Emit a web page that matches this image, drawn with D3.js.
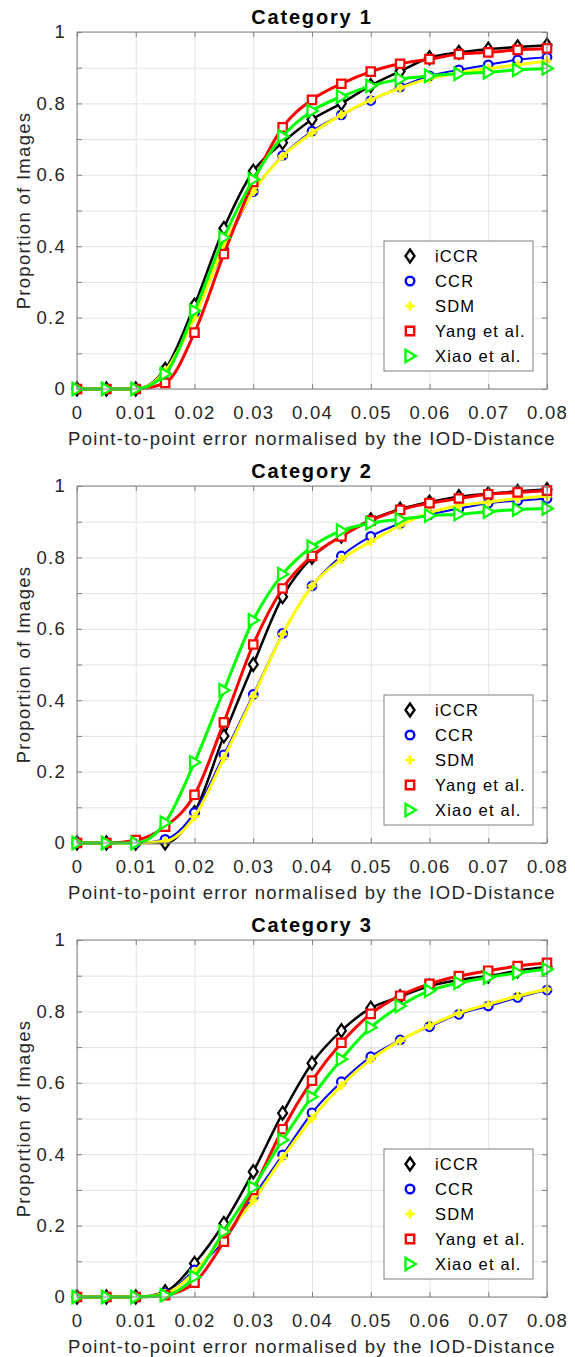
<!DOCTYPE html>
<html>
<head>
<meta charset="utf-8">
<script src="https://cdn.jsdelivr.net/npm/d3@7"></script>
<style>
  body { margin: 0; background: #fff; }
  svg { display: block; }
  text { font-family: "Liberation Sans", Arial, sans-serif; }
</style>
</head>
<body>
<svg id="chart" width="575" height="1357"></svg>
<script>
// ---------- DATA ----------
const xValues = [0, 0.005, 0.01, 0.015, 0.02, 0.025, 0.03, 0.035, 0.04, 0.045, 0.05, 0.055, 0.06, 0.065, 0.07, 0.075, 0.08];
const xTickValues = [0, 0.01, 0.02, 0.03, 0.04, 0.05, 0.06, 0.07, 0.08];
const yTickValues = [0, 0.1, 0.2, 0.3, 0.4, 0.5, 0.6, 0.7, 0.8, 0.9, 1];
const yLabelValues = [0, 0.2, 0.4, 0.6, 0.8, 1];
const seriesNames = ["iCCR", "CCR", "SDM", "Yang et al.", "Xiao et al."];
const panelTitles = ["Category 1", "Category 2", "Category 3"];

// Category 1
const cat1_iCCR = [0, 0, 0, 0.055, 0.235, 0.45, 0.61, 0.69, 0.755, 0.80, 0.85, 0.89, 0.928, 0.943, 0.952, 0.958, 0.963];
const cat1_CCR  = [0, 0, 0, 0.045, 0.213, 0.39, 0.553, 0.654, 0.722, 0.768, 0.808, 0.846, 0.877, 0.894, 0.908, 0.922, 0.929];
const cat1_SDM  = [0, 0, 0, 0.05, 0.20, 0.40, 0.553, 0.652, 0.717, 0.768, 0.81, 0.843, 0.87, 0.886, 0.898, 0.908, 0.919];
const cat1_Yang = [0, 0, 0, 0.017, 0.158, 0.378, 0.58, 0.733, 0.81, 0.855, 0.889, 0.911, 0.924, 0.938, 0.943, 0.95, 0.954];
const cat1_Xiao = [0, 0, 0, 0.042, 0.219, 0.424, 0.587, 0.708, 0.779, 0.819, 0.849, 0.868, 0.877, 0.883, 0.887, 0.894, 0.898];

// Category 2
const cat2_iCCR = [0, 0, 0, 0, 0.085, 0.30, 0.50, 0.69, 0.80, 0.86, 0.905, 0.935, 0.955, 0.97, 0.978, 0.985, 0.99];
const cat2_CCR  = [0, 0, 0, 0.01, 0.085, 0.247, 0.416, 0.587, 0.72, 0.804, 0.859, 0.895, 0.92, 0.937, 0.952, 0.959, 0.965];
const cat2_SDM  = [0, 0, 0, 0.005, 0.074, 0.238, 0.41, 0.585, 0.72, 0.795, 0.844, 0.89, 0.925, 0.945, 0.955, 0.965, 0.971];
const cat2_Yang = [0, 0, 0.008, 0.046, 0.135, 0.338, 0.556, 0.713, 0.804, 0.859, 0.903, 0.933, 0.952, 0.965, 0.977, 0.982, 0.987];
const cat2_Xiao = [0, 0, 0, 0.057, 0.226, 0.428, 0.624, 0.753, 0.83, 0.875, 0.896, 0.907, 0.917, 0.921, 0.928, 0.934, 0.937];

// Category 3
const cat3_iCCR = [0, 0, 0, 0.015, 0.094, 0.206, 0.351, 0.515, 0.655, 0.746, 0.809, 0.841, 0.871, 0.888, 0.899, 0.914, 0.925];
const cat3_CCR  = [0, 0, 0, 0.01, 0.076, 0.158, 0.281, 0.398, 0.516, 0.603, 0.673, 0.72, 0.757, 0.792, 0.815, 0.839, 0.86];
const cat3_SDM  = [0, 0, 0, 0.01, 0.07, 0.17, 0.27, 0.39, 0.50, 0.592, 0.665, 0.718, 0.76, 0.795, 0.82, 0.843, 0.862];
const cat3_Yang = [0, 0, 0, 0.005, 0.04, 0.155, 0.30, 0.47, 0.606, 0.712, 0.793, 0.844, 0.877, 0.899, 0.914, 0.927, 0.936];
const cat3_Xiao = [0, 0, 0, 0.005, 0.057, 0.183, 0.307, 0.44, 0.561, 0.666, 0.755, 0.815, 0.858, 0.88, 0.895, 0.908, 0.918];

const panelsData = [
  [cat1_iCCR, cat1_CCR, cat1_SDM, cat1_Yang, cat1_Xiao],
  [cat2_iCCR, cat2_CCR, cat2_SDM, cat2_Yang, cat2_Xiao],
  [cat3_iCCR, cat3_CCR, cat3_SDM, cat3_Yang, cat3_Xiao]
];

// ---------- STYLE ----------
const colors = ["#000000", "#0000ff", "#ffff00", "#ff0000", "#00ff00"];
const lineWidths = [2.5, 2, 3, 3, 3];
const markerTypes = ["diamond", "circle", "plus", "square", "triangle"];
const axisColor = "#262626";
const boxColor = "#808080";
const gridColor = "#e3e3e3";
const tickFont = 18.5, tickSpacing = 1.3;

const svg = d3.select("#chart");
const plotLeft = 77, plotRight = 547, plotH = 357;
const panelTops = [32, 486, 940];

function markerPath(type) {
  switch (type) {
    case "diamond": return "M0,-6.5 L4.5,0 L0,6.5 L-4.5,0 Z";
    case "circle": return d3.symbol(d3.symbolCircle, 58)();
    case "plus": return "M-4.5,0 L4.5,0 M0,-4.5 L0,4.5";
    case "square": return "M-4.2,-4.2 L4.2,-4.2 L4.2,4.2 L-4.2,4.2 Z";
    case "triangle": return "M-4.5,-6.2 L5.8,0 L-4.5,6.2 Z";
  }
}

panelsData.forEach((series, pi) => {
  const top = panelTops[pi];
  const bottom = top + plotH;
  const x = d3.scaleLinear().domain([0, 0.08]).range([plotLeft, plotRight]);
  const y = d3.scaleLinear().domain([0, 1]).range([bottom, top]);
  const g = svg.append("g");

  // grid
  g.append("g").attr("transform", `translate(0,${bottom})`)
    .call(d3.axisBottom(x).tickValues(xTickValues).tickSize(-plotH).tickFormat(""))
    .call(a => a.select(".domain").remove())
    .call(a => a.selectAll("line").attr("stroke", gridColor).attr("stroke-width", 1));
  g.append("g").attr("transform", `translate(${plotLeft},0)`)
    .call(d3.axisLeft(y).tickValues(yTickValues).tickSize(-(plotRight - plotLeft)).tickFormat(""))
    .call(a => a.select(".domain").remove())
    .call(a => a.selectAll("line").attr("stroke", gridColor).attr("stroke-width", 1));

  // lines and markers
  const line = d3.line()
    .x((d, i) => x(xValues[i]))
    .y(d => y(d))
    .curve(d3.curveMonotoneX);
  series.forEach((vals, si) => {
    g.append("path").datum(vals)
      .attr("d", line)
      .attr("fill", "none")
      .attr("stroke", colors[si])
      .attr("stroke-width", lineWidths[si])
      .attr("stroke-linejoin", "round");
    g.selectAll(null).data(vals).enter().append("path")
      .attr("d", markerPath(markerTypes[si]))
      .attr("transform", (d, i) => `translate(${x(xValues[i])},${y(d)})`)
      .attr("fill", markerTypes[si] === "plus" ? "none" : "#fff")
      .attr("stroke", colors[si])
      .attr("stroke-width", markerTypes[si] === "plus" ? 2.8 : 2.2);
  });

  // axes (inward ticks)
  const styleAxis = a => {
    a.select(".domain").remove();
    a.selectAll("line").attr("stroke", boxColor);
    a.selectAll("text").attr("fill", axisColor)
      .style("font-size", tickFont + "px").style("letter-spacing", tickSpacing + "px")
      .style("font-family", '"Liberation Sans", Arial, sans-serif');
  };
  g.append("g").attr("transform", `translate(0,${bottom})`)
    .call(d3.axisBottom(x).tickValues(xTickValues).tickSize(-5).tickPadding(17)
      .tickFormat(d => d === 0 ? "0" : d3.format(".2f")(d)))
    .call(styleAxis);
  g.append("g").attr("transform", `translate(0,${top})`)
    .call(d3.axisTop(x).tickValues(xTickValues).tickSize(-5).tickFormat(""))
    .call(styleAxis);
  g.append("g").attr("transform", `translate(${plotLeft},0)`)
    .call(d3.axisLeft(y).tickValues(yTickValues).tickSize(-5).tickPadding(11)
      .tickFormat(d => yLabelValues.some(v => Math.abs(v - d) < 1e-9) ? (d === 0 ? "0" : d === 1 ? "1" : d3.format(".1f")(d)) : ""))
    .call(styleAxis);
  g.append("g").attr("transform", `translate(${plotRight},0)`)
    .call(d3.axisRight(y).tickValues(yTickValues).tickSize(-5).tickFormat(""))
    .call(styleAxis);

  // box
  g.append("rect")
    .attr("x", plotLeft).attr("y", top)
    .attr("width", plotRight - plotLeft).attr("height", plotH)
    .attr("fill", "none").attr("stroke", boxColor).attr("stroke-width", 1);

  // title
  g.append("text")
    .attr("x", (plotLeft + plotRight) / 2).attr("y", top - 8)
    .attr("text-anchor", "middle")
    .style("font-size", "20px").style("font-weight", "bold").style("letter-spacing", "1.8px")
    .attr("fill", "#000")
    .text(panelTitles[pi]);

  // x label
  g.append("text")
    .attr("x", (plotLeft + plotRight) / 2).attr("y", bottom + 56)
    .attr("text-anchor", "middle")
    .style("font-size", tickFont + "px").style("letter-spacing", tickSpacing + "px")
    .attr("fill", axisColor)
    .text("Point-to-point error normalised by the IOD-Distance");

  // y label
  g.append("text")
    .attr("transform", `translate(30,${(top + bottom) / 2}) rotate(-90)`)
    .attr("text-anchor", "middle")
    .style("font-size", tickFont + "px").style("letter-spacing", tickSpacing + "px")
    .attr("fill", axisColor)
    .text("Proportion of Images");

  // legend
  const lgW = 149, lgH = 130;
  const lgX = plotRight - 14 - lgW, lgY = bottom - 18 - lgH;
  const lg = g.append("g").attr("transform", `translate(${lgX},${lgY})`);
  lg.append("rect").attr("width", lgW).attr("height", lgH)
    .attr("fill", "#fff").attr("stroke", boxColor).attr("stroke-width", 1);
  seriesNames.forEach((name, si) => {
    const ry = 15 + si * 25;
    lg.append("path")
      .attr("d", markerPath(markerTypes[si]))
      .attr("transform", `translate(26,${ry})`)
      .attr("fill", markerTypes[si] === "plus" ? "none" : "#fff")
      .attr("stroke", colors[si])
      .attr("stroke-width", markerTypes[si] === "plus" ? 2.8 : 2.4);
    lg.append("text")
      .attr("x", 51).attr("y", ry + 6)
      .style("font-size", "16.5px").style("letter-spacing", "1.2px")
      .attr("fill", "#000")
      .text(name);
  });
});
</script>
</body>
</html>
